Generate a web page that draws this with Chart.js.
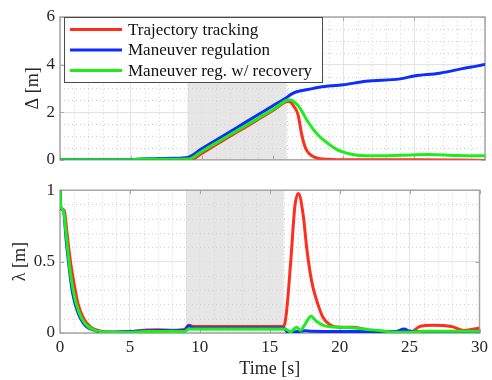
<!DOCTYPE html>
<html><head><meta charset="utf-8">
<script src="https://cdn.jsdelivr.net/npm/chart.js@4/dist/chart.umd.min.js"></script>
<style>
html,body{margin:0;padding:0;background:#fff;}
#wrap{position:relative;width:492px;height:380px;overflow:hidden;}
canvas{position:absolute;left:0;}
</style></head><body>
<div id="wrap">
<canvas id="cTop" width="492" height="175" style="top:0;width:492px;height:175px"></canvas>
<canvas id="cBot" width="492" height="205" style="top:175px;width:492px;height:205px"></canvas>
</div>
<script>
// ---------- data ----------
const seriesLabels = ['Trajectory tracking', 'Maneuver regulation', 'Maneuver reg. w/ recovery'];
const seriesColors = ['#ff2d1e', '#0d2eff', '#1cee1c'];
const shadeStart = 9, shadeEnd = 16;
const xLabel = 'Time [s]';
const deltaLabel = 'Δ [m]';
const lambdaLabel = 'λ [m]';

// Δ, top panel
const tTrackD = [0, 5, 6, 8, 9.2, 10, 11, 12, 13, 14, 15, 16.1, 16.3, 16.5, 16.8, 17.05, 17.3, 17.6, 18.0, 18.5, 20, 25, 28, 30];
const trackD  = [0, 0, -0.02, -0.03, -0.02, 0.27, 0.63, 0.99, 1.34, 1.70, 2.06, 2.45, 2.42, 2.25, 1.9, 1.1, 0.54, 0.25, 0.1, 0.03, 0, 0, -0.01, -0.03];
const tRegD = [0, 5, 6, 7, 8, 9.0, 10, 11, 12, 13, 14, 15, 15.95, 16.3, 16.7, 17.5, 18.3, 20, 21.6, 24, 25, 26.8, 28.4, 29.9, 30];
const regD  = [0, 0.01, 0.04, 0.05, 0.06, 0.1, 0.46, 0.82, 1.18, 1.54, 1.9, 2.26, 2.6, 2.75, 2.86, 2.95, 3.05, 3.15, 3.3, 3.4, 3.52, 3.64, 3.83, 4.0, 4.02];
const tRecD = [0, 5, 5.5, 6, 7, 8, 9.1, 10, 11, 12, 13, 14, 15, 16.2, 16.5, 16.9, 17.5, 18.2, 19.0, 19.5, 20, 20.5, 21, 22, 24, 26, 28, 30];
const recD  = [0, 0, 0.03, 0.03, 0.02, 0.02, 0.03, 0.35, 0.70, 1.05, 1.40, 1.75, 2.10, 2.52, 2.45, 2.2, 1.6, 1.05, 0.65, 0.45, 0.32, 0.24, 0.19, 0.17, 0.19, 0.22, 0.18, 0.17];

// λ, bottom panel
const tTrackL = [0, 0.05, 0.3, 0.5, 0.75, 1.0, 1.3, 1.7, 2.2, 3.0, 4, 5, 6, 7, 8, 8.9, 9.2, 9.6, 16.0, 16.2, 16.5, 16.8, 17.05, 17.4, 17.65, 18.0, 18.35, 18.8, 19.3, 20, 21, 22, 23, 24, 25.2, 25.7, 26.7, 28, 28.9, 30];
const trackL  = [1.0, 0.88, 0.86, 0.7, 0.5, 0.35, 0.2, 0.1, 0.04, 0.012, 0.005, 0.008, 0.02, 0.022, 0.02, 0.025, 0.055, 0.045, 0.045, 0.15, 0.5, 0.89, 0.977, 0.82, 0.59, 0.36, 0.23, 0.11, 0.057, 0.04, 0.04, 0.02, 0.0, 0.01, 0.011, 0.045, 0.055, 0.045, 0.018, 0.034];
const tRegL = [0, 0.05, 0.24, 0.45, 0.7, 0.9, 1.25, 1.7, 2.4, 3.3, 5, 6, 7, 8, 8.9, 9.2, 9.6, 16.0, 16.3, 17.0, 17.5, 18, 20, 22, 24, 24.6, 25.0, 26, 28, 30];
const regL  = [1.0, 0.88, 0.86, 0.64, 0.42, 0.28, 0.15, 0.065, 0.02, 0.006, 0.01, 0.015, 0.018, 0.018, 0.018, 0.05, 0.035, 0.035, 0.005, 0.01, 0.015, 0.012, 0.01, 0.01, 0.01, 0.028, 0.012, 0.01, 0.01, 0.012];
const tRecL = [0, 0.05, 0.24, 0.47, 0.7, 0.94, 1.3, 1.76, 2.47, 3.4, 5, 6, 7, 8, 8.9, 9.2, 16.1, 16.5, 16.9, 17.2, 17.5, 17.95, 18.35, 18.95, 20, 21, 22, 23, 24, 25, 26, 28, 30];
const recL  = [1.0, 0.89, 0.86, 0.66, 0.45, 0.3, 0.16, 0.07, 0.02, 0.007, 0.005, 0.01, 0.01, 0.012, 0.01, 0.028, 0.028, 0.008, 0.04, 0.018, 0.057, 0.118, 0.08, 0.05, 0.04, 0.035, 0.025, 0.015, 0.005, 0.005, 0.012, 0.012, 0.012];

// ---------- helpers ----------
const FONT = "'Liberation Serif', 'Times New Roman', serif";
const TXT = '#262626';
function pts(t, v) { return t.map((x, i) => ({ x: x, y: v[i] })); }
function ds(i, t, v) {
  return {
    label: seriesLabels[i], data: pts(t, v), borderColor: seriesColors[i], backgroundColor: seriesColors[i],
    borderWidth: 3, pointRadius: 0, cubicInterpolationMode: 'monotone', order: 3 - i, borderJoinStyle: 'round'
  };
}
function fmt(v) { return String(Number(v.toFixed(2))); }

function decoPlugin(opt) {
  return {
    id: 'deco',
    beforeDraw(chart) {
      const { ctx, chartArea: a, scales: { x } } = chart;
      ctx.save();
      ctx.fillStyle = '#e6e6e6';
      const x0 = x.getPixelForValue(shadeStart), x1 = x.getPixelForValue(shadeEnd);
      ctx.fillRect(x0, a.top, x1 - x0, a.bottom - a.top);
      ctx.restore();
    },
    beforeDatasetsDraw(chart) {
      const { ctx, chartArea: a, scales: { x, y } } = chart;
      ctx.save();
      ctx.strokeStyle = '#d2d2d2';
      ctx.lineWidth = 1;
      ctx.setLineDash([1, 3]);
      for (let v = x.min; v <= x.max + 1e-9; v += opt.xMinor) {
        if (Math.abs(v / opt.xMajor - Math.round(v / opt.xMajor)) < 1e-6) continue;
        const p = Math.round(x.getPixelForValue(v)) + 0.5;
        ctx.beginPath(); ctx.moveTo(p, a.top); ctx.lineTo(p, a.bottom); ctx.stroke();
      }
      for (let v = y.min; v <= y.max + 1e-9; v += opt.yMinor) {
        if (Math.abs(v / opt.yMajor - Math.round(v / opt.yMajor)) < 1e-6) continue;
        const p = Math.round(y.getPixelForValue(v)) + 0.5;
        ctx.beginPath(); ctx.moveTo(a.left, p); ctx.lineTo(a.right, p); ctx.stroke();
      }
      ctx.setLineDash([]);
      // axes box
      ctx.strokeStyle = '#a6a6a6';
      ctx.lineWidth = 1.5;
      ctx.strokeRect(a.left, a.top, a.right - a.left, a.bottom - a.top);
      // inward ticks
      ctx.lineWidth = 1;
      for (let v = x.min; v <= x.max + 1e-9; v += opt.xMajor) {
        const p = Math.round(x.getPixelForValue(v)) + 0.5;
        ctx.beginPath(); ctx.moveTo(p, a.bottom); ctx.lineTo(p, a.bottom - 4);
        ctx.moveTo(p, a.top); ctx.lineTo(p, a.top + 4); ctx.stroke();
      }
      for (let v = y.min; v <= y.max + 1e-9; v += opt.yMajor) {
        const p = Math.round(y.getPixelForValue(v)) + 0.5;
        ctx.beginPath(); ctx.moveTo(a.left, p); ctx.lineTo(a.left + 4, p);
        ctx.moveTo(a.right, p); ctx.lineTo(a.right - 4, p); ctx.stroke();
      }
      ctx.restore();
    },
    afterDraw(chart) {
      if (!opt.legend) return;
      const { ctx } = chart;
      const L = opt.legend;
      ctx.save();
      ctx.fillStyle = '#ffffff';
      ctx.fillRect(L.x, L.y, L.w, L.h);
      ctx.strokeStyle = '#4a4a4a';
      ctx.lineWidth = 1;
      ctx.strokeRect(L.x + 0.5, L.y + 0.5, L.w, L.h);
      chart.data.datasets.forEach((d, i) => {
        const yy = L.y + L.row0 + i * L.rowH;
        ctx.strokeStyle = d.borderColor; ctx.lineWidth = 3;
        ctx.beginPath(); ctx.moveTo(L.x + 6, yy); ctx.lineTo(L.x + 58, yy); ctx.stroke();
        ctx.fillStyle = '#111';
        ctx.font = '17px ' + FONT;
        ctx.textBaseline = 'middle';
        ctx.fillText(d.label, L.x + 64, yy + 1);
      });
      ctx.restore();
    }
  };
}

function makeChart(canvasId, datasets, cfg) {
  return new Chart(document.getElementById(canvasId), {
    type: 'line',
    data: { datasets: datasets },
    options: {
      responsive: false, animation: false, devicePixelRatio: 1,
      layout: { padding: { top: cfg.padTop, right: 7, left: 0, bottom: 0 } },
      plugins: { legend: { display: false }, tooltip: { enabled: false } },
      scales: {
        x: {
          type: 'linear', min: 0, max: 30,
          afterFit: s => { s.height = cfg.xHeight; },
          ticks: { display: cfg.showX, stepSize: 5, padding: 4, color: TXT, font: { family: FONT, size: 17 }, callback: fmt },
          grid: { color: '#e3e3e3', drawTicks: false },
          border: { display: false },
          title: { display: cfg.showX, text: xLabel, color: TXT, font: { family: FONT, size: 18 }, padding: { top: 0, bottom: 0 } }
        },
        y: {
          type: 'linear', min: cfg.yMin, max: cfg.yMax,
          afterFit: s => { s.width = 60; },
          ticks: { stepSize: cfg.yStep, padding: 5, color: TXT, font: { family: FONT, size: 17 }, callback: fmt },
          grid: { color: '#e3e3e3', drawTicks: false },
          border: { display: false },
          title: { display: true, text: cfg.yLabel, color: TXT, font: { family: FONT, size: 18 }, padding: { top: cfg.yTitlePad, bottom: 0 } }
        }
      }
    },
    plugins: [decoPlugin(cfg.deco)]
  });
}

makeChart('cTop', [ds(0, tTrackD, trackD), ds(1, tRegD, regD), ds(2, tRecD, recD)], {
  padTop: 17, xHeight: 12, showX: false, yMin: 0, yMax: 6, yStep: 2, yLabel: deltaLabel, yTitlePad: 22,
  deco: { xMinor: 1, xMajor: 5, yMinor: 0.5, yMajor: 2,
          legend: { x: 64, y: 17, w: 258, h: 65, row0: 12.5, rowH: 20.5 } }
});
makeChart('cBot', [ds(0, tTrackL, trackL), ds(1, tRegL, regL), ds(2, tRecL, recL)], {
  padTop: 12, xHeight: 47, showX: true, yMin: 0, yMax: 1, yStep: 0.5, yLabel: lambdaLabel, yTitlePad: 9,
  deco: { xMinor: 1, xMajor: 5, yMinor: 0.1, yMajor: 0.5, legend: null }
});
</script>
</body></html>
